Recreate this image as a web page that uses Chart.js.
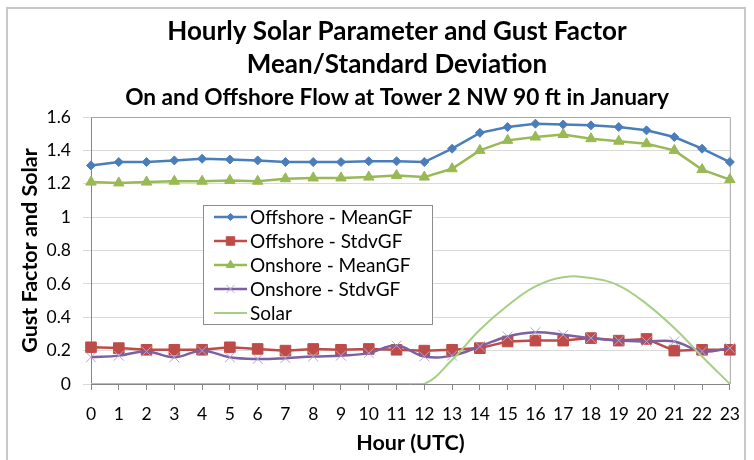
<!DOCTYPE html>
<html>
<head>
<meta charset="utf-8">
<title>Hourly Solar Parameter and Gust Factor</title>
<script src="https://cdn.jsdelivr.net/npm/chart.js"></script>
<style>
  html, body { margin: 0; padding: 0; background: #fff; }
  #wrap { width: 754px; height: 460px; }
</style>
</head>
<body>
<div id="wrap"><canvas id="gustChart" width="754" height="460"></canvas></div>
<script>
// Values
const hours = ['0', '1', '2', '3', '4', '5', '6', '7', '8', '9', '10', '11',
               '12', '13', '14', '15', '16', '17', '18', '19', '20', '21', '22', '23'];

const offshoreMean = [1.31, 1.33, 1.33, 1.34, 1.35, 1.345, 1.34, 1.33, 1.33, 1.33, 1.335, 1.335,
                      1.33, 1.41, 1.505, 1.54, 1.56, 1.555, 1.55, 1.54, 1.52, 1.48, 1.41, 1.33];
const offshoreStdv = [0.22, 0.215, 0.205, 0.205, 0.205, 0.22, 0.21, 0.2, 0.21, 0.205, 0.21, 0.205,
                      0.2, 0.205, 0.215, 0.255, 0.26, 0.26, 0.275, 0.26, 0.27, 0.2, 0.205, 0.205];
const onshoreMean = [1.21, 1.205, 1.21, 1.215, 1.215, 1.22, 1.215, 1.23, 1.235, 1.235, 1.24, 1.25,
                     1.24, 1.29, 1.40, 1.46, 1.48, 1.495, 1.47, 1.455, 1.44, 1.40, 1.285, 1.225];
const onshoreStdv = [0.16, 0.17, 0.195, 0.16, 0.2, 0.16, 0.15, 0.155, 0.165, 0.17, 0.185, 0.23,
                     0.165, 0.17, 0.225, 0.285, 0.31, 0.295, 0.275, 0.26, 0.255, 0.255, 0.195, 0.215];
const solar = [0, 0, 0, 0, 0, 0, 0, 0, 0, 0, 0, 0,
               0, 0.145, 0.325, 0.47, 0.585, 0.64, 0.635, 0.59, 0.48, 0.335, 0.165, 0];

const seriesNames = ['Offshore - MeanGF', 'Offshore - StdvGF', 'Onshore - MeanGF', 'Onshore - StdvGF', 'Solar'];
const yMin = 0;
const yMax = 1.6;
const yStep = 0.2;

Chart.defaults.font.family = 'Lato, "Open Sans", sans-serif';
Chart.defaults.color = '#000';

// outer light grey frame round the whole chart
const chartFrame = {
    id: 'chartFrame',
    beforeDraw(chart) {
        const ctx = chart.ctx;
        ctx.save();
        ctx.fillStyle = '#fff';
        ctx.fillRect(0, 0, chart.width, chart.height);
        ctx.strokeStyle = '#C8C8C8';
        ctx.lineWidth = 2;
        ctx.strokeRect(7, 8, chart.width - 16, chart.height + 10);
        ctx.restore();
    }
};

// top and right edges of the plot area
const plotBorder = {
    id: 'plotBorder',
    beforeDatasetsDraw(chart) {
        const { ctx, chartArea: a } = chart;
        ctx.save();
        ctx.strokeStyle = '#A6A6A6';
        ctx.lineWidth = 1;
        ctx.beginPath();
        ctx.moveTo(a.left, a.top + 0.5);
        ctx.lineTo(a.right + 0.5, a.top + 0.5);
        ctx.lineTo(a.right + 0.5, a.bottom);
        ctx.stroke();
        ctx.restore();
    }
};

// the titles sit a little right of the canvas centre
const shiftTitles = {
    id: 'shiftTitles',
    afterLayout(chart) {
        chart.boxes.forEach(b => {
            if (b.position === 'top') {
                b.left += 31;
                b.right += 31;
            }
        });
    }
};

// boxed legend inside the plot, line with marker like the original
const boxLegend = {
    id: 'boxLegend',
    afterDatasetsDraw(chart) {
        const { ctx, chartArea: a } = chart;
        const x = a.left + 112;
        const y = a.top + 88;
        const w = 229;
        const rowH = 24;
        const h = rowH * chart.data.datasets.length - 1;
        ctx.save();
        ctx.fillStyle = '#fff';
        ctx.fillRect(x, y, w, h);
        ctx.strokeStyle = '#8C8C8C';
        ctx.lineWidth = 1;
        ctx.strokeRect(x + 0.5, y + 0.5, w, h);
        ctx.font = '19px Lato, "Open Sans", sans-serif';
        ctx.textBaseline = 'middle';
        ctx.textAlign = 'left';
        chart.data.datasets.forEach((ds, i) => {
            const cy = y + 12 + i * rowH;
            ctx.strokeStyle = ds.borderColor;
            ctx.lineWidth = ds.borderWidth;
            ctx.beginPath();
            ctx.moveTo(x + 11, cy);
            ctx.lineTo(x + 44, cy);
            ctx.stroke();
            if (ds.pointRadius > 0 && Chart.helpers && Chart.helpers.drawPoint) {
                ctx.fillStyle = ds.pointBackgroundColor;
                ctx.strokeStyle = ds.pointBorderColor;
                ctx.lineWidth = ds.pointBorderWidth;
                Chart.helpers.drawPoint(ctx, {
                    pointStyle: ds.pointStyle,
                    radius: ds.pointRadius * 0.8,
                    rotation: 0,
                    borderWidth: ds.pointBorderWidth
                }, x + 27.5, cy);
            }
            ctx.fillStyle = '#000';
            ctx.fillText(ds.label, x + 47, cy + 1);
        });
        ctx.restore();
    }
};

const ctx = document.getElementById('gustChart').getContext('2d');
const gustChart = new Chart(ctx, {
    type: 'line',
    data: {
        labels: hours,
        datasets: [{
            label: seriesNames[0],
            data: offshoreMean,
            borderColor: '#4A7EBB',
            borderWidth: 2.5,
            pointStyle: 'rectRot',
            pointRadius: 4.5,
            pointBackgroundColor: '#4A7EBB',
            pointBorderColor: '#4A7EBB',
            pointBorderWidth: 1,
            tension: 0,
            order: 4
        }, {
            label: seriesNames[1],
            data: offshoreStdv,
            borderColor: '#BE4B48',
            borderWidth: 2.5,
            pointStyle: 'rect',
            pointRadius: 7.5,
            pointBackgroundColor: '#BE4B48',
            pointBorderColor: '#BE4B48',
            pointBorderWidth: 1,
            tension: 0,
            order: 3
        }, {
            label: seriesNames[2],
            data: onshoreMean,
            borderColor: '#98B954',
            borderWidth: 2.5,
            pointStyle: 'triangle',
            pointRadius: 6,
            pointBackgroundColor: '#98B954',
            pointBorderColor: '#98B954',
            pointBorderWidth: 1,
            tension: 0,
            order: 2
        }, {
            label: seriesNames[3],
            data: onshoreStdv,
            borderColor: '#7D60A0',
            borderWidth: 2.5,
            pointStyle: 'crossRot',
            pointRadius: 7,
            pointBackgroundColor: '#B5A5CF',
            pointBorderColor: '#B5A5CF',
            pointBorderWidth: 1,
            tension: 0.4,
            order: 1
        }, {
            label: seriesNames[4],
            data: solar,
            borderColor: '#A6CF84',
            borderWidth: 2,
            pointRadius: 0,
            tension: 0.4,
            order: 0
        }]
    },
    options: {
        responsive: false,
        animation: false,
        devicePixelRatio: 1,
        layout: {
            padding: { left: 0, right: 22, top: 0, bottom: 0 }
        },
        plugins: {
            legend: { display: false },
            tooltip: { enabled: false },
            title: {
                display: true,
                text: ['Hourly Solar Parameter and Gust Factor', 'Mean/Standard Deviation'],
                font: { size: 26, weight: 'bold', lineHeight: 33 / 26 },
                color: '#000',
                padding: { top: 15.5, bottom: 0 }
            },
            subtitle: {
                display: true,
                text: 'On and Offshore Flow at Tower 2 NW 90 ft in January',
                font: { size: 22.7, weight: 'bold', lineHeight: 24 / 22.7 },
                color: '#000',
                padding: { top: 4.5, bottom: 7 }
            }
        },
        scales: {
            x: {
                offset: false,
                grid: {
                    display: true,
                    drawOnChartArea: false,
                    drawTicks: true,
                    tickLength: 6,
                    color: '#868686'
                },
                border: { color: '#868686', width: 1 },
                ticks: {
                    font: { size: 17.5 },
                    color: '#000',
                    padding: 14,
                    maxRotation: 0,
                    autoSkip: false
                },
                title: {
                    display: true,
                    text: 'Hour (UTC)',
                    font: { size: 21.5, weight: 'bold' },
                    color: '#000',
                    padding: { top: 0, bottom: 4 }
                },
                afterFit(scale) { scale.height = 76; }
            },
            y: {
                min: yMin,
                max: yMax,
                grid: {
                    color: '#D9D9D9',
                    tickLength: 8
                },
                border: { color: '#868686', width: 1 },
                ticks: {
                    stepSize: yStep,
                    font: { size: 17.5 },
                    color: '#000',
                    padding: 12,
                    callback: v => String(Number(v.toFixed(1)))
                },
                title: {
                    display: true,
                    text: 'Gust Factor and Solar',
                    font: { size: 21.5, weight: 'bold' },
                    color: '#000',
                    padding: { top: 17, bottom: 0 }
                },
                afterFit(scale) { scale.width = 91; }
            }
        }
    },
    plugins: [chartFrame, plotBorder, shiftTitles, boxLegend]
});
</script>
</body>
</html>
